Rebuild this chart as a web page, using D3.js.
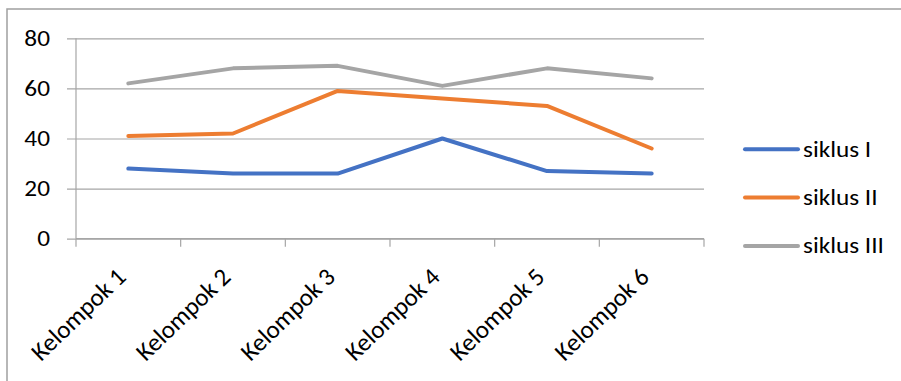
<!DOCTYPE html>
<html>
<head>
<meta charset="utf-8">
<script src="https://cdn.jsdelivr.net/npm/d3@7"></script>
<style>
  html, body { margin: 0; padding: 0; background: #fff; }
  svg { display: block; }
  text { font-family: Carlito, Lato, "Open Sans", sans-serif; fill: #000; }
</style>
</head>
<body>
<div id="chart"></div>
<script>
// Scores per group for each cycle
const categories = ["Kelompok 1", "Kelompok 2", "Kelompok 3", "Kelompok 4", "Kelompok 5", "Kelompok 6"];
const seriesNames = ["siklus I", "siklus II", "siklus III"];
const siklus1 = [28, 26, 26, 40, 27, 26];
const siklus2 = [41, 42, 59, 56, 53, 36];
const siklus3 = [62, 68, 69, 61, 68, 64];
const yTicks = [0, 20, 40, 60, 80];
const colors = ["#4472C4", "#ED7D31", "#A5A5A5"];

const series = [siklus1, siklus2, siklus3].map((values, i) => ({
  name: seriesNames[i],
  color: colors[i],
  values: values
}));

const W = 901, H = 381;
const FS = 22;
const SX = 1.15; // horizontal widening of the lettering
const plot = { left: 76, right: 704, top: 38.3, bottom: 238.7 };

const svg = d3.select("#chart").append("svg")
  .attr("width", W).attr("height", H);

// chart frame
svg.append("rect")
  .attr("x", 7).attr("y", 9)
  .attr("width", W + 20).attr("height", H + 20)
  .attr("fill", "none")
  .attr("stroke", "#a0a0a0")
  .attr("stroke-width", 1.5);

const x = d3.scaleBand().domain(categories).range([plot.left, plot.right]);
const y = d3.scaleLinear().domain([0, 80]).range([plot.bottom, plot.top]);

// horizontal gridlines with small ticks left of the axis
const yAxis = d3.axisLeft(y).tickValues(yTicks)
  .tickSize(-(plot.right - plot.left)).tickPadding(0).tickFormat("");
const gy = svg.append("g").attr("transform", `translate(${plot.left},0)`).call(yAxis);
gy.select(".domain").remove();
gy.selectAll(".tick line").attr("stroke", "#a6a6a6").attr("stroke-width", 1.2)
  .attr("x1", -9);

// y axis line
svg.append("line")
  .attr("x1", plot.left).attr("x2", plot.left)
  .attr("y1", plot.top).attr("y2", plot.bottom)
  .attr("stroke", "#a6a6a6").attr("stroke-width", 1.2);

// y tick labels
svg.append("g").selectAll("text").data(yTicks).join("text")
  .attr("transform", d => `translate(50,${y(d)}) scale(${SX},1)`)
  .attr("dy", "0.34em")
  .attr("text-anchor", "end")
  .attr("font-size", FS)
  .text(d => d);

// x axis with tick marks at band boundaries
const bounds = categories.map(c => x(c)).concat([plot.right]);
svg.append("line")
  .attr("x1", plot.left).attr("x2", plot.right)
  .attr("y1", plot.bottom).attr("y2", plot.bottom)
  .attr("stroke", "#a6a6a6").attr("stroke-width", 1.2);
svg.append("g").selectAll("line").data(bounds).join("line")
  .attr("x1", d => d).attr("x2", d => d)
  .attr("y1", plot.bottom).attr("y2", plot.bottom + 8)
  .attr("stroke", "#a6a6a6").attr("stroke-width", 1.2);

// rotated category labels
svg.append("g").selectAll("text").data(categories).join("text")
  .attr("transform", d => `translate(${x(d) + x.bandwidth() / 2 - 1},${plot.bottom + 40}) rotate(-44)`)
  .attr("text-anchor", "end")
  .attr("font-size", 25)
  .text(d => d);

// series lines
const line = d3.line()
  .x((d, i) => x(categories[i]) + x.bandwidth() / 2)
  .y(d => y(d));

svg.append("g").selectAll("path").data(series).join("path")
  .attr("d", d => line(d.values))
  .attr("fill", "none")
  .attr("stroke", d => d.color)
  .attr("stroke-width", 4)
  .attr("stroke-linecap", "round")
  .attr("stroke-linejoin", "round");

// legend
const legend = svg.append("g").selectAll("g").data(series).join("g")
  .attr("transform", (d, i) => `translate(745,${149.3 + i * 48.3})`);
legend.append("line")
  .attr("x1", 0).attr("x2", 53)
  .attr("stroke", d => d.color)
  .attr("stroke-width", 4)
  .attr("stroke-linecap", "round");
legend.append("text")
  .attr("transform", `translate(58,0) scale(${SX},1)`)
  .attr("dy", "0.34em")
  .attr("font-size", FS)
  .text(d => d.name);
</script>
</body>
</html>
